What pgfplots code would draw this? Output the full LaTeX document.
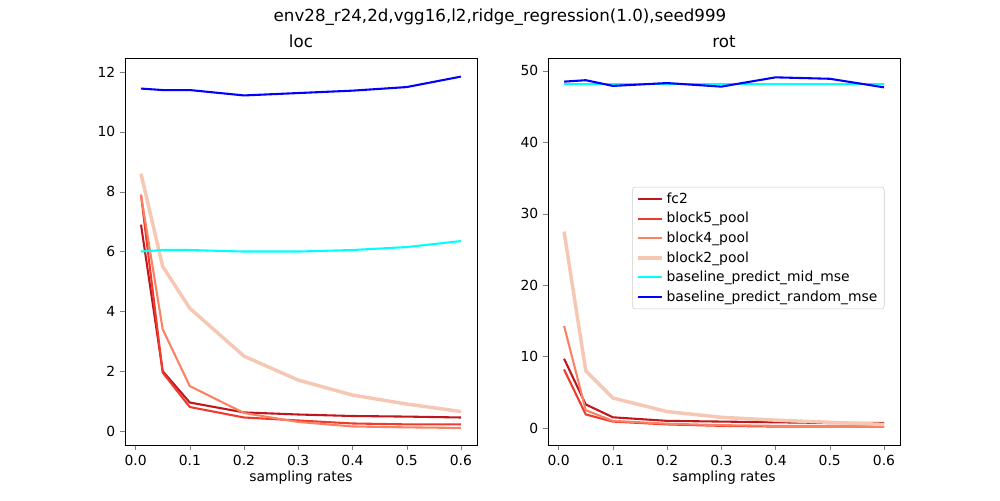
\documentclass[border=0pt]{standalone}
\usepackage{pgfplots}
\pgfplotsset{compat=1.18}
\usepackage{fontspec}
\setmainfont{DejaVu Sans}
\definecolor{cfc}{RGB}{190,24,30}
\definecolor{cb5}{RGB}{239,59,44}
\definecolor{cb4}{RGB}{250,130,100}
\definecolor{cb2}{RGB}{246,200,180}
\definecolor{ccy}{RGB}{0,255,255}
\pgfplotsset{
 myax/.style={scale only axis, width=253.4pt, height=278.6pt,
  xmin=-0.0195, xmax=0.6295, xtick={0,0.1,...,0.6},
  xticklabel style={/pgf/number format/fixed,/pgf/number format/precision=1,/pgf/number format/fixed zerofill},
  tick align=outside, tick pos=left, major tick length=3.5pt,
  ticklabel style={font=\fontsize{10}{12}\selectfont},
  /pgf/number format/assume math mode=true,
  title style={font=\fontsize{12}{14}\selectfont, yshift=-2pt},
  xlabel={sampling rates}, label style={font=\fontsize{10}{12}\selectfont},
  xlabel style={yshift=3pt},
  every axis plot/.append style={line width=1.5pt, line join=round},
  anchor=south west, axis line style={line width=0.6pt}}
}
\begin{document}
\begin{tikzpicture}
\path (0pt,0pt) rectangle (720pt,360pt);
\node[font=\fontsize{12}{14}\selectfont] at (360pt,347.8pt) {env28\_r24,2d,vgg16,l2,ridge\_regression(1.0),seed999};
\begin{axis}[myax, at={(90pt,39.6pt)}, title={loc}, ymin=-0.47, ymax=12.47, ytick={0,2,...,12}]
\addplot[cfc] coordinates {(0.01,6.9)(0.05,2.0)(0.1,0.95)(0.2,0.62)(0.3,0.55)(0.4,0.5)(0.5,0.48)(0.6,0.45)};
\addplot[cb5] coordinates {(0.01,7.9)(0.05,1.95)(0.1,0.8)(0.2,0.45)(0.3,0.35)(0.4,0.25)(0.5,0.22)(0.6,0.22)};
\addplot[cb4] coordinates {(0.01,7.9)(0.05,3.4)(0.1,1.5)(0.2,0.6)(0.3,0.3)(0.4,0.15)(0.5,0.12)(0.6,0.1)};
\addplot[cb2, line width=2.5pt] coordinates {(0.01,8.6)(0.05,5.5)(0.1,4.1)(0.2,2.5)(0.3,1.7)(0.4,1.2)(0.5,0.9)(0.6,0.65)};
\addplot[ccy] coordinates {(0.01,6.0)(0.05,6.05)(0.1,6.05)(0.2,6.0)(0.3,6.0)(0.4,6.05)(0.5,6.15)(0.6,6.35)};
\addplot[blue] coordinates {(0.01,11.45)(0.05,11.4)(0.1,11.4)(0.2,11.22)(0.3,11.3)(0.4,11.38)(0.5,11.5)(0.6,11.85)};
\end{axis}
\begin{axis}[myax, at={(394.6pt,39.6pt)}, title={rot}, ymin=-2.38, ymax=51.8, ytick={0,10,...,50},
 legend style={at={(rel axis cs:0.239,0.667)}, anchor=north west, font=\fontsize{10}{12}\selectfont, draw=black!20, rounded corners=2pt, row sep=1pt},
 legend cell align=left]
\addplot[cfc] coordinates {(0.01,9.7)(0.05,3.3)(0.1,1.5)(0.2,1.0)(0.3,0.9)(0.4,0.8)(0.5,0.7)(0.6,0.7)};
\addplot[cb5] coordinates {(0.01,8.2)(0.05,1.9)(0.1,0.9)(0.2,0.5)(0.3,0.3)(0.4,0.2)(0.5,0.2)(0.6,0.2)};
\addplot[cb4] coordinates {(0.01,14.3)(0.05,2.5)(0.1,1.0)(0.2,0.6)(0.3,0.4)(0.4,0.3)(0.5,0.3)(0.6,0.3)};
\addplot[cb2, line width=2.5pt] coordinates {(0.01,27.5)(0.05,8.0)(0.1,4.2)(0.2,2.3)(0.3,1.5)(0.4,1.1)(0.5,0.8)(0.6,0.5)};
\addplot[ccy] coordinates {(0.01,48.2)(0.05,48.2)(0.1,48.2)(0.2,48.2)(0.3,48.2)(0.4,48.2)(0.5,48.2)(0.6,48.2)};
\addplot[blue] coordinates {(0.01,48.5)(0.05,48.7)(0.1,47.9)(0.2,48.3)(0.3,47.8)(0.4,49.1)(0.5,48.9)(0.6,47.7)};
\legend{fc2,block5\_pool,block4\_pool,block2\_pool,baseline\_predict\_mid\_mse,baseline\_predict\_random\_mse}
\end{axis}
\end{tikzpicture}
\end{document}
